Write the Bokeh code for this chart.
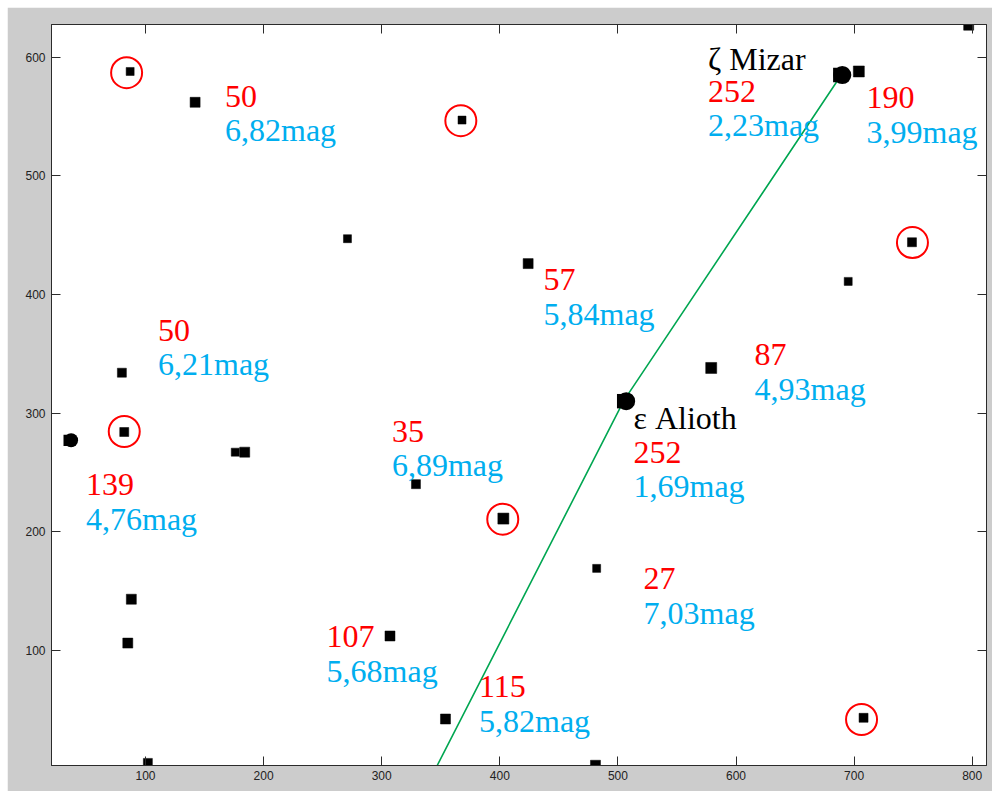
from bokeh.plotting import figure
from bokeh.models import FixedTicker, LinearAxis, Range1d
from bokeh.core.properties import value
from bokeh.embed import file_html
from bokeh.resources import INLINE

# Star positions (image pixel coordinates of the field) and marker sizes
star_x = [87, 142, 368, 271, 424, 80, 82, 176, 184, 329, 403, 88, 85, 102,
          307, 354, 481, 482, 579, 749, 695, 708, 797, 704]
star_y = [588, 562, 547, 447, 426, 334, 284, 267, 267, 240, 211, 143, 106, 5,
          112, 42, 3, 169, 338, 444, 411, 43, 627, 588]
star_size = [8, 10, 8, 8, 10, 9, 9, 8, 10, 9, 11, 10, 10, 9,
             10, 10, 10, 8, 11, 9, 8, 9, 10, 11]

# Bright, merged star images
blob_x = [37, 507, 690]
blob_y = [277, 310, 585]
blob_size = [14, 18, 18]

# Circled (candidate) stars
ring_x = [84, 367, 82, 402.5, 749.4, 706.3]
ring_y = [587, 546.5, 284.4, 210.5, 443.7, 41.6]

# Alignment line Alioth -> Mizar
line_x = [347.0, 505.0, 690.8]
line_y = [2.8, 310.5, 587.5]

# Annotations: anchor (baseline of the brightness line), brightness, magnitude
label_x = [167.3, 576.3, 710.5, 437.0, 110.6, 615.7, 513.2, 308.7, 49.6, 521.7, 253.3, 382.4]
label_y = [567.1, 571.4, 565.8, 412.6, 369.8, 349.3, 267.0, 284.7, 239.7, 160.5, 111.6, 69.2]
brightness = ["50", "252", "190", "57", "50", "87", "252", "35", "139", "27", "107", "115"]
magnitude = ["6,82mag", "2,23mag", "3,99mag", "5,84mag", "6,21mag", "4,93mag",
             "1,69mag", "6,89mag", "4,76mag", "7,03mag", "5,68mag", "5,82mag"]

name_x = [576.3, 513.2]
name_y = [598.3, 295.9]
names = ["\u03b6 Mizar", "\u03b5 Alioth"]

x_ticks = [100, 200, 300, 400, 500, 600, 700, 800]
y_ticks = [100, 200, 300, 400, 500, 600]

LINE_STEP = 28.8  # vertical distance between annotation lines, data units

FIG_BG = "#cccccc"
AX_COL = "#2b2b2b"
SERIF = value("Liberation Serif")
FS = "32px"

p = figure(width=985, height=784, output_backend="svg", toolbar_location=None,
           x_range=Range1d(20.4, 812.1), y_range=Range1d(2.8, 627.6),
           min_border_left=44, min_border_top=17, min_border_right=6,
           min_border_bottom=26, background_fill_color="white",
           border_fill_color=FIG_BG, outline_line_color=AX_COL)
p.margin = (7, 0, 0, 7)
p.xgrid.visible = False
p.ygrid.visible = False

for ax, ticks in ((p.xaxis[0], x_ticks), (p.yaxis[0], y_ticks)):
    ax.ticker = FixedTicker(ticks=ticks)
    ax.major_tick_in = 9
    ax.major_tick_out = 0
    ax.minor_tick_line_color = None
    ax.axis_line_color = AX_COL
    ax.major_tick_line_color = AX_COL
    ax.major_label_text_font = "Liberation Sans"
    ax.major_label_text_font_size = "12px"
    ax.major_label_text_color = "#222222"
p.xaxis.major_label_standoff = 5
p.yaxis.major_label_standoff = 6

for loc, ticks in (("above", x_ticks), ("right", y_ticks)):
    extra = LinearAxis(ticker=FixedTicker(ticks=ticks), major_tick_in=9,
                       major_tick_out=0, minor_tick_line_color=None,
                       axis_line_color=AX_COL, major_tick_line_color=AX_COL,
                       major_label_text_color=None,
                       major_label_text_font_size="0px", major_label_standoff=0)
    p.add_layout(extra, loc)

# alignment line
p.line(line_x, line_y, line_color="#00a651", line_width=1.6)

# stars
p.scatter(star_x, star_y, size=star_size, marker="square",
          fill_color="black", line_color="black", line_width=0.5)
p.scatter(blob_x, blob_y, size=blob_size, marker="circle",
          fill_color="black", line_color=None)
p.scatter([x - 1.7 for x in blob_x], blob_y, size=[s * 0.8 for s in blob_size],
          marker="square", fill_color="black", line_color=None)

# rings around candidate stars
p.scatter(ring_x, ring_y, size=31, marker="circle", fill_color=None,
          line_color="#ff0000", line_width=2)

# annotations
p.text(name_x, name_y, text=names, text_font=SERIF, text_font_size=FS,
       text_color="black", text_baseline="alphabetic", text_align="left")
p.text(label_x, label_y, text=brightness, text_font=SERIF, text_font_size=FS,
       text_color="#ff0000", text_baseline="alphabetic", text_align="left")
p.text(label_x, [y - LINE_STEP for y in label_y], text=magnitude, text_font=SERIF,
       text_font_size=FS, text_color="#00aeef", text_baseline="alphabetic",
       text_align="left")

open("out.html", "w").write(file_html(p, INLINE))
